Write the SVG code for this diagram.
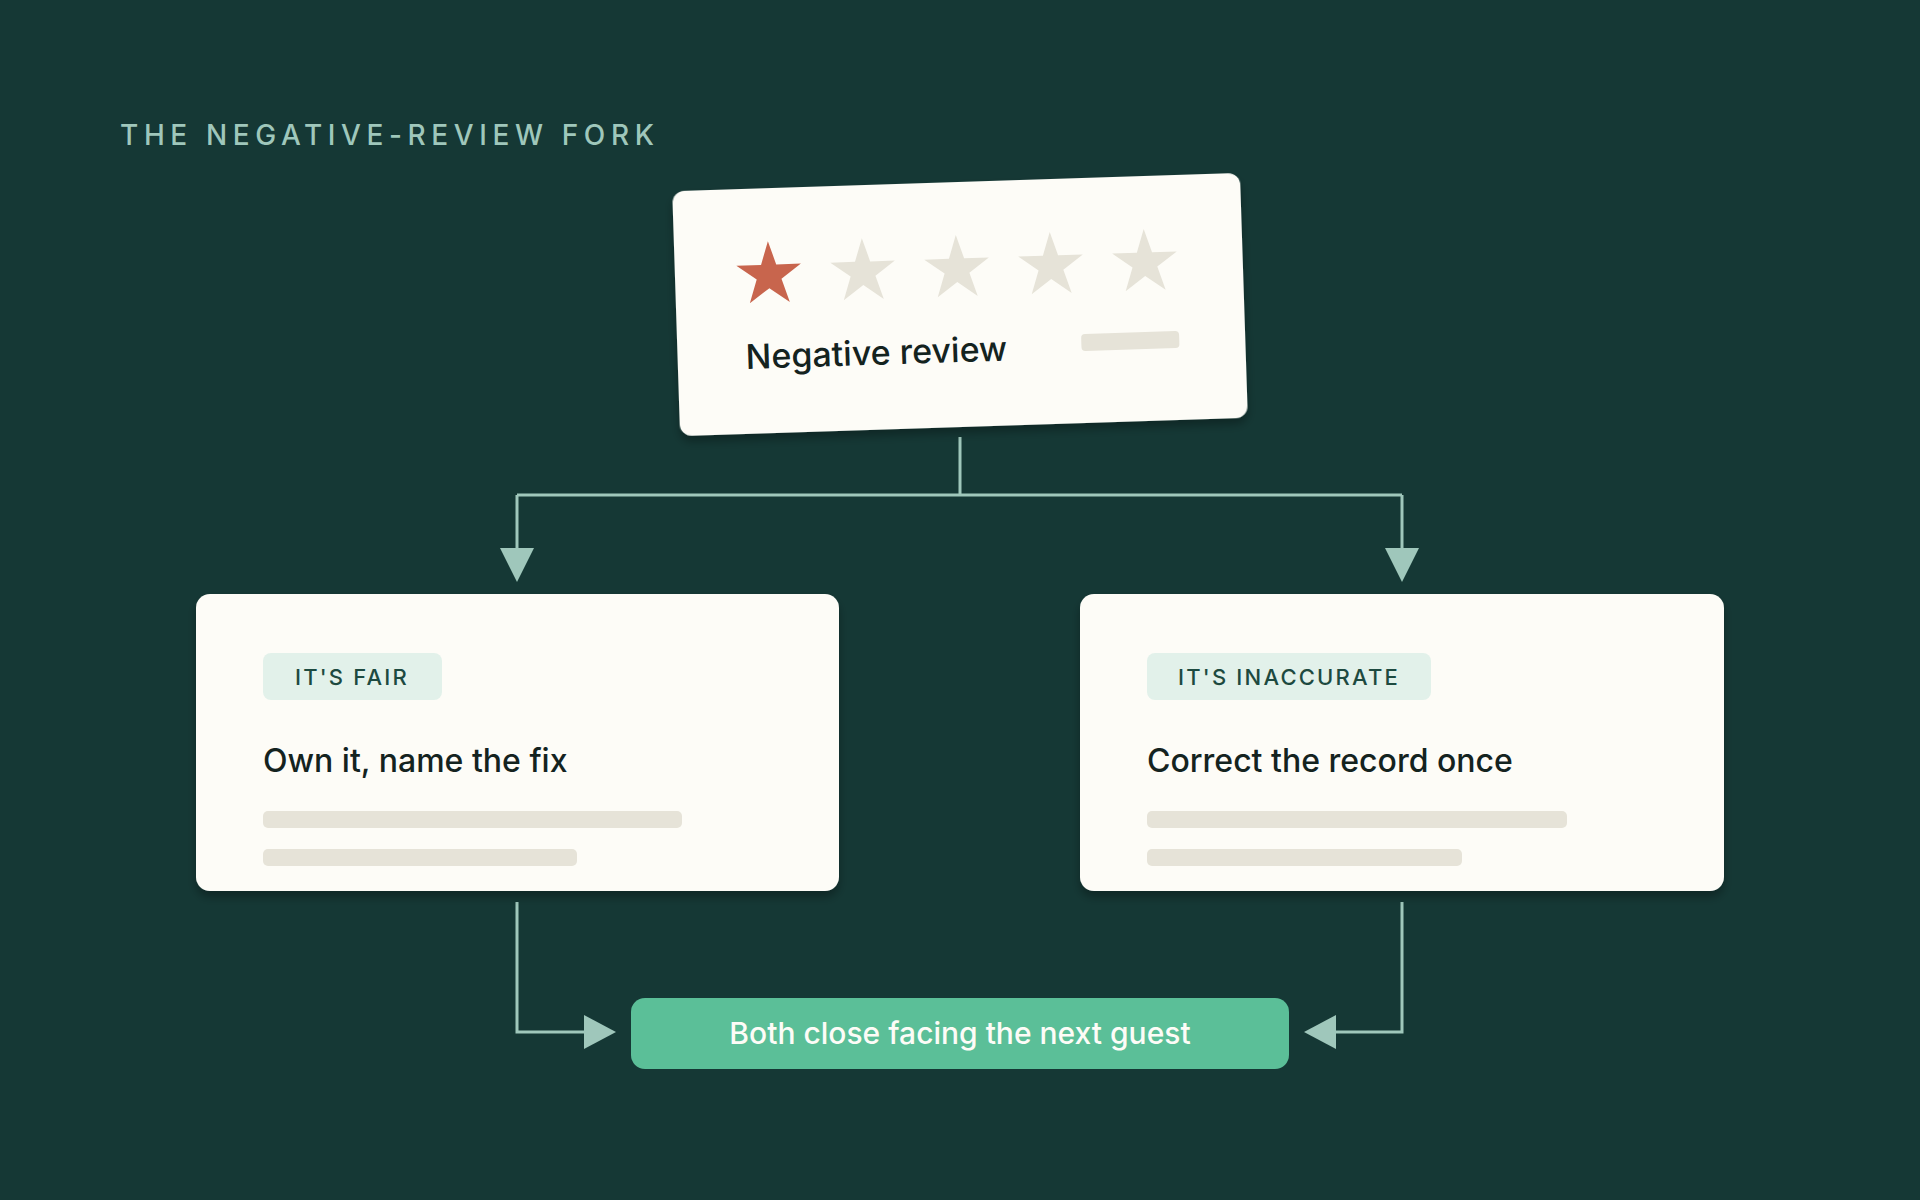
<svg xmlns="http://www.w3.org/2000/svg" width="1920" height="1200" viewBox="0 0 1920 1200">
<defs>
<style>
.card{fill:#fdfcf7}
.bar{fill:#e6e3d8}
.line{fill:none;stroke:#9fc7bb;stroke-width:3}
.tag{fill:#e2f1ea}
.tagt{font-family:Inter,"Liberation Sans",sans-serif;font-size:22px;font-weight:500;letter-spacing:2.2px;fill:#1d4a40}
.head{font-family:Inter,"Liberation Sans",sans-serif;font-size:32px;font-weight:500;fill:#14231f}
</style>
<filter id="sh" x="-10%" y="-10%" width="120%" height="130%"><feDropShadow dx="0" dy="6" stdDeviation="5" flood-color="#000" flood-opacity="0.3"/></filter>
<path id="star" d="M0,-34 L7.6,-10.5 L32.3,-10.5 L12.4,4 L20,27.5 L0,13 L-20,27.5 L-12.4,4 L-32.3,-10.5 L-7.6,-10.5Z"/>
</defs>
<rect width="1920" height="1200" fill="#153835"/>
<text x="120" y="145" font-family="Inter,'Liberation Sans',sans-serif" font-size="28" font-weight="500" letter-spacing="5.6" fill="#9fc7bb">THE NEGATIVE-REVIEW FORK</text>
<g id="connectors">
<path class="line" d="M960,437 V495 M517,495 H1402"/>
<path d="M517,495 V548" class="line"/>
<path d="M1402,495 V548" class="line"/>
<path d="M500,548 L534,548 L517,582Z" fill="#9fc7bb"/>
<path d="M1385,548 L1419,548 L1402,582Z" fill="#9fc7bb"/>
<path class="line" d="M517,902 V1032 H584"/>
<path d="M584,1015 L616,1032 L584,1049Z" fill="#9fc7bb"/>
<path class="line" d="M1402,902 V1032 H1336"/>
<path d="M1336,1015 L1304,1032 L1336,1049Z" fill="#9fc7bb"/>
</g>
<g id="review" transform="translate(960,304) rotate(-1.85)">
<rect x="-284" y="-122" width="568" height="245" rx="12" class="card" filter="url(#sh)"/>
<use href="#star" x="-190" y="-35" fill="#c8654d"/>
<use href="#star" x="-96" y="-35" fill="#e6e3d8"/>
<use href="#star" x="-2" y="-35" fill="#e6e3d8"/>
<use href="#star" x="92" y="-35" fill="#e6e3d8"/>
<use href="#star" x="186" y="-35" fill="#e6e3d8"/>
<text x="-216" y="58" class="head" style="font-size:34px">Negative review</text>
<rect x="120" y="34" width="98" height="17" rx="4" class="bar"/>
</g>
<g id="fair">
<rect x="196" y="594" width="643" height="297" rx="14" class="card" filter="url(#sh)"/>
<rect x="263" y="653" width="179" height="47" rx="8" class="tag"/>
<text x="352" y="685" text-anchor="middle" class="tagt">IT'S FAIR</text>
<text x="263" y="772" class="head">Own it, name the fix</text>
<rect x="263" y="811" width="419" height="17" rx="5" class="bar"/>
<rect x="263" y="849" width="314" height="17" rx="5" class="bar"/>
</g>
<g id="inaccurate">
<rect x="1080" y="594" width="644" height="297" rx="14" class="card" filter="url(#sh)"/>
<rect x="1147" y="653" width="284" height="47" rx="8" class="tag"/>
<text x="1289" y="685" text-anchor="middle" class="tagt">IT'S INACCURATE</text>
<text x="1147" y="772" class="head">Correct the record once</text>
<rect x="1147" y="811" width="420" height="17" rx="5" class="bar"/>
<rect x="1147" y="849" width="315" height="17" rx="5" class="bar"/>
</g>
<g id="outcome">
<rect x="631" y="998" width="658" height="71" rx="14" fill="#5bbf98"/>
<text x="960" y="1044" text-anchor="middle" font-family="Inter,'Liberation Sans',sans-serif" font-size="30" font-weight="500" fill="#fdfcf7">Both close facing the next guest</text>
</g>
</svg>
